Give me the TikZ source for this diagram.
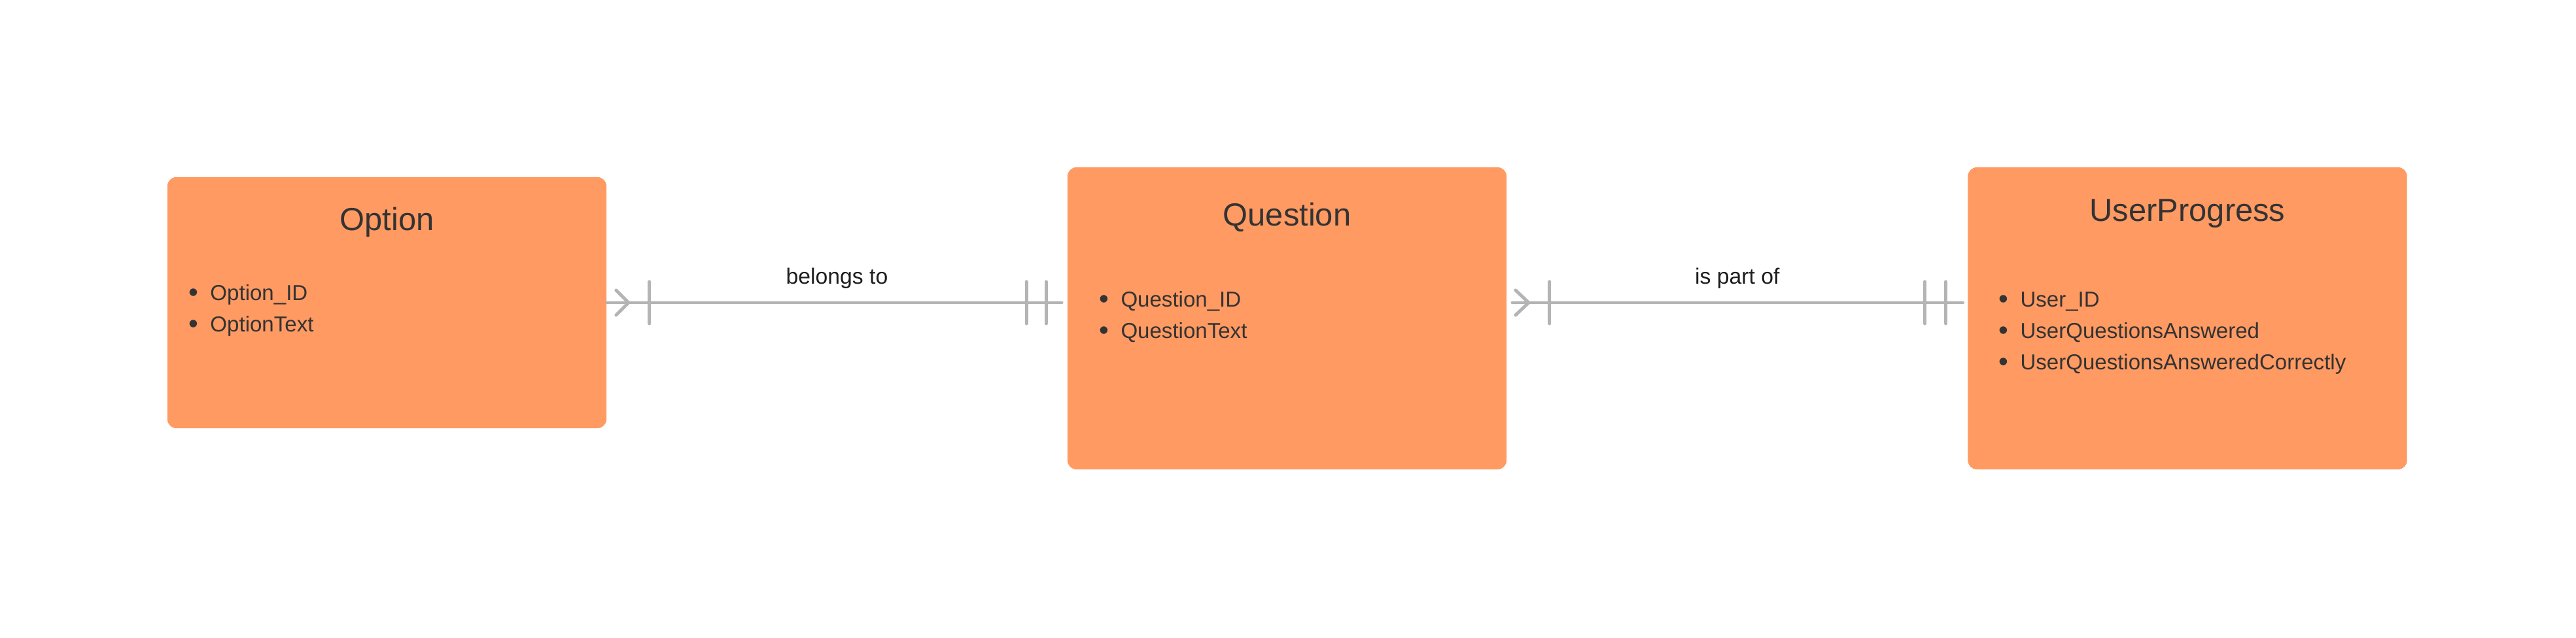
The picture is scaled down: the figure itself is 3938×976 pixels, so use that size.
\documentclass[tikz,border=0pt]{standalone}
\usepackage{fontspec}
\setmainfont{Liberation Sans}
\usepackage{tikz}
\usetikzlibrary{positioning}

\definecolor{boxorange}{HTML}{FF9A62}
\definecolor{textdark}{HTML}{333333}
\definecolor{linegray}{HTML}{B4B4B4}
\definecolor{labeldark}{HTML}{1E1E1E}

\newcommand{\itembullet}{\raisebox{-0.8pt}{\fontsize{12}{11}\selectfont\textbullet}\hspace{0.18cm}}

\begin{document}
\begin{tikzpicture}[
        x=0.01cm,y=-0.01cm,
        entity/.style={rectangle,fill=boxorange,rounded corners=0.14cm,minimum width=6.71cm,inner sep=0},
        title/.style={anchor=base,inner sep=0,text=textdark,font=\fontsize{13.9}{16}\selectfont},
        item/.style={anchor=base west,inner sep=0,text=textdark,font=\fontsize{9.4}{11}\selectfont},
        relline/.style={draw=linegray,line width=1.42pt,line cap=round,line join=round},
        rellabel/.style={inner sep=0,text=labeldark,font=\fontsize{9.6}{11}\selectfont}
    ]
        \fill[white] (0,0) rectangle (3938,976);
        \useasboundingbox (0,0) rectangle (3938,976);

        % Entities
        \node[entity,minimum height=3.84cm] (option) at (591.5,463) {};
        \node[entity,minimum height=4.62cm] (question) at (1967.5,487) {};
        \node[entity,minimum height=4.62cm] (progress) at (3344,487) {};

        % Titles
        \node[title] (optiontitle) at (591.5,353) {Option};
        \node[title] (questiontitle) at (1967.5,346) {Question};
        \node[title] (progresstitle) at (3344,339) {UserProgress};

        % Attributes
        \node[item] (opt1) at (288,459) {\itembullet Option\_ID};
        \node[item] (opt2) at (288,507) {\itembullet OptionText};
        \node[item] (q1) at (1680,469) {\itembullet Question\_ID};
        \node[item] (q2) at (1680,517) {\itembullet QuestionText};
        \node[item] (up1) at (3055,469) {\itembullet User\_ID};
        \node[item] (up2) at (3055,517) {\itembullet UserQuestionsAnswered};
        \node[item] (up3) at (3055,565) {\itembullet UserQuestionsAnsweredCorrectly};

        % Connector ends
        \coordinate (qleft) at (option.east -| question.west);
        \coordinate (qright) at (option.east -| question.east);
        \coordinate (upleft) at (option.east -| progress.west);

        % Option -- Question
        \draw[relline,shorten >=0.08cm] (option.east) -- node[rellabel,above=0.19cm] {belongs to} (qleft);
        \draw[relline] ([xshift=0.14cm,yshift=0.19cm]option.east) -- ([xshift=0.33cm]option.east) -- ([xshift=0.14cm,yshift=-0.19cm]option.east);
        \draw[relline] ([xshift=0.65cm,yshift=0.32cm]option.east) -- ([xshift=0.65cm,yshift=-0.32cm]option.east);
        \draw[relline] ([xshift=-0.62cm,yshift=0.32cm]qleft) -- ([xshift=-0.62cm,yshift=-0.32cm]qleft);
        \draw[relline] ([xshift=-0.32cm,yshift=0.32cm]qleft) -- ([xshift=-0.32cm,yshift=-0.32cm]qleft);

        % Question -- UserProgress
        \draw[relline,shorten <=0.08cm,shorten >=0.07cm] (qright) -- node[rellabel,above=0.19cm] {is part of} (upleft);
        \draw[relline] ([xshift=0.13cm,yshift=0.19cm]qright) -- ([xshift=0.33cm]qright) -- ([xshift=0.13cm,yshift=-0.19cm]qright);
        \draw[relline] ([xshift=0.65cm,yshift=0.32cm]qright) -- ([xshift=0.65cm,yshift=-0.32cm]qright);
        \draw[relline] ([xshift=-0.65cm,yshift=0.32cm]upleft) -- ([xshift=-0.65cm,yshift=-0.32cm]upleft);
        \draw[relline] ([xshift=-0.33cm,yshift=0.32cm]upleft) -- ([xshift=-0.33cm,yshift=-0.32cm]upleft);
    \end{tikzpicture}
\end{document}
